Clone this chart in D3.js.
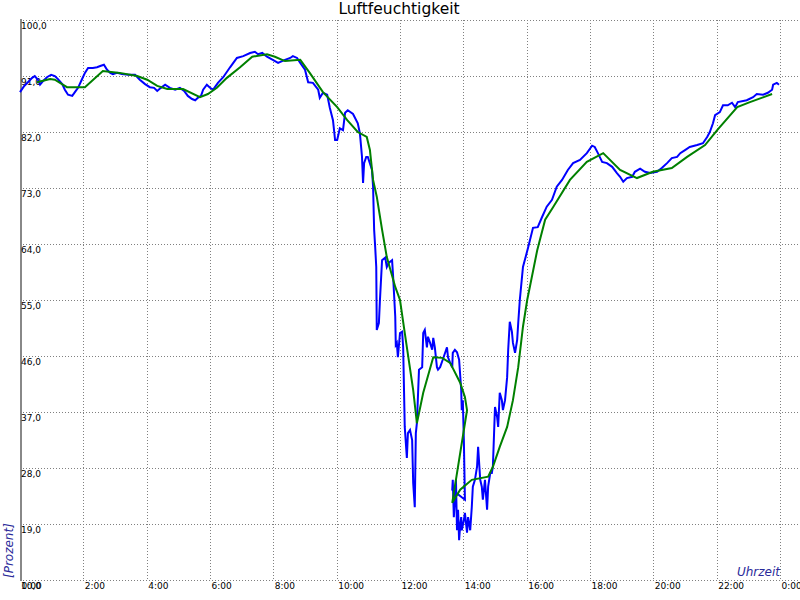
<!DOCTYPE html>
<html>
<head>
<meta charset="utf-8">
<script src="https://cdn.jsdelivr.net/npm/d3@7"></script>
<style>
  html, body { margin: 0; padding: 0; background: #fff; }
  svg { display: block; }
  text { font-family: "DejaVu Sans", sans-serif; }
</style>
</head>
<body>
<svg id="chart" width="800" height="600"></svg>
<script>
// ---- Data (time in minutes since 0:00, relative humidity in %) ----
const title = "Luftfeuchtigkeit";
const yLabel = "[Prozent]";
const xLabel = "Uhrzeit";

const yTickValues = [100, 91, 82, 73, 64, 55, 46, 37, 28, 19, 10];
const xTickValues = [0, 120, 240, 360, 480, 600, 720, 840, 960, 1080, 1200, 1320, 1440];
const xTickLabels = ["0:00","2:00","4:00","6:00","8:00","10:00","12:00","14:00","16:00","18:00","20:00","22:00","0:00"];

// measured humidity (blue)
const measuredTime = [0,8,15,23,28,34,38,44,51,59,66,72,80,85,91,99,104,110,117,123,129,138,146,152,159,165,171,176,184,193,205,218,227,237,246,254,260,267,275,284,294,303,311,318,326,332,337,343,347,354,360,366,375,385,398,411,423,436,445,451,459,468,479,489,502,512,517,525,531,540,546,555,565,568,574,582,587,593,597,601,606,612,616,621,631,640,644,648,650,652,656,659,667,669,671,673,675,676,680,682,686,692,695,699,705,707,711,712,714,716,720,724,726,729,733,735,739,743,745,748,750,752,756,762,764,767,771,773,777,781,783,786,790,792,796,801,809,811,815,819,820,824,828,832,836,837,839,841,843,819,820,822,824,826,828,830,832,834,836,837,841,843,847,849,853,856,858,862,866,868,872,875,877,881,885,887,891,894,896,900,904,906,909,913,915,919,923,925,928,932,934,938,942,944,947,953,963,972,981,989,998,1008,1017,1027,1038,1048,1061,1074,1084,1089,1095,1103,1112,1122,1131,1137,1143,1150,1160,1165,1175,1184,1194,1207,1216,1226,1235,1245,1251,1260,1269,1283,1294,1302,1307,1313,1317,1326,1332,1341,1349,1355,1360,1377,1389,1396,1408,1417,1425,1427,1434,1438];
const measuredValue = [88.4,89.4,90.0,90.7,91.0,90.4,89.6,90.2,90.8,91.2,91.0,90.5,89.7,88.8,88.0,87.8,88.4,89.1,90.4,91.5,92.3,92.3,92.4,92.6,92.8,92.0,91.5,91.3,91.5,91.3,91.2,91.2,90.4,89.7,89.2,89.1,88.6,89.1,89.6,89.1,88.8,89.1,88.6,87.8,87.3,87.1,87.5,87.8,88.8,89.6,89.1,88.8,89.9,90.8,92.4,93.9,94.2,94.7,94.9,94.5,94.7,94.1,93.6,93.1,93.6,93.9,94.2,93.9,93.1,92.0,90.0,89.9,88.8,87.5,88.3,88.0,85.9,83.9,80.7,80.7,82.6,82.3,85.1,85.5,84.9,83.4,81.8,78.0,73.8,77.0,78.0,78.0,75.9,73.2,66.3,63.5,60.3,50.2,51.3,55.0,61.4,61.8,60.3,61.0,61.4,58.7,52.3,47.8,48.1,45.8,49.7,49.9,47.4,34.6,29.6,33.6,34.1,32.5,25.6,21.7,33.6,35.2,43.8,44.2,49.7,50.2,47.4,49.1,48.1,47.0,48.9,47.4,44.2,43.8,44.2,45.4,47.4,45.8,44.9,44.2,46.5,47.0,46.6,45.4,40.5,37.3,38.9,32.5,22.9,24.5,26.1,20.1,22.9,26.1,18.0,21.3,16.4,18.8,20.1,18.0,19.6,20.8,17.6,20.1,18.0,21.7,25.0,26.1,28.2,31.4,26.1,25.0,22.9,26.1,21.3,25.0,27.2,27.2,28.2,37.8,36.2,34.6,40.1,38.9,37.3,38.9,42.6,47.0,51.5,49.9,48.1,46.5,48.6,51.3,55.0,60.3,63.5,66.6,66.7,68.3,70.0,71.1,73.2,74.3,75.9,77.0,77.5,78.6,79.8,79.6,78.6,77.2,77.0,76.4,75.4,74.8,74.0,74.6,74.8,75.6,76.1,75.6,75.4,75.6,76.2,77.0,77.8,78.0,78.6,79.1,79.6,79.9,80.2,81.2,82.0,83.4,84.7,85.2,86.3,86.3,86.7,86.0,86.8,87.1,87.6,88.1,88.0,88.3,88.8,89.6,89.9,89.6];

// smoothed humidity (green)
const smoothTime = [32,57,66,89,123,157,189,222,241,260,279,309,341,356,373,392,417,440,468,483,502,531,549,574,601,620,640,657,663,669,676,686,695,711,720,729,745,752,764,783,800,815,834,843,847,819,834,856,887,896,909,923,934,944,953,961,966,980,995,1010,1042,1074,1105,1137,1169,1199,1235,1264,1298,1321,1359,1383,1425];
const smoothValue = [90.0,90.5,90.4,89.2,89.2,91.8,91.5,91.0,90.4,89.4,88.9,88.9,87.6,88.1,89.1,90.7,92.4,94.1,94.5,94.1,93.4,93.6,91.5,88.4,86.0,83.9,82.0,81.2,79.1,74.3,71.6,66.3,61.9,57.1,55.0,49.7,40.5,35.2,40.1,45.8,45.7,44.9,41.7,39.4,37.3,22.4,24.5,26.1,26.6,28.2,31.4,34.6,38.9,44.2,50.7,55.0,57.1,63.0,67.9,69.9,74.3,77.2,78.6,75.9,74.6,75.6,76.2,78.0,79.9,82.3,86.0,86.8,88.1];

// ---- Drawing ----
const svg = d3.select("#chart");
const x = d3.scaleLinear().domain([0, 1440]).range([20, 780]);
const y = d3.scaleLinear().domain([10, 100]).range([580, 20]);
const gridColor = "#808080";

svg.append("rect").attr("width", 800).attr("height", 600).attr("fill", "#fff");

// horizontal grid
svg.append("g").selectAll("line").data(yTickValues).join("line")
  .attr("x1", 20).attr("x2", 800)
  .attr("y1", d => Math.round(y(d)) + 0.5).attr("y2", d => Math.round(y(d)) + 0.5)
  .attr("stroke", gridColor).attr("stroke-width", 1).attr("stroke-dasharray", "1,2")
  .attr("shape-rendering", "crispEdges");

// vertical grid
svg.append("g").selectAll("line").data(xTickValues.slice(1)).join("line")
  .attr("x1", d => Math.round(x(d)) + 0.5).attr("x2", d => Math.round(x(d)) + 0.5)
  .attr("y1", 20).attr("y2", 580)
  .attr("stroke", gridColor).attr("stroke-width", 1).attr("stroke-dasharray", "1,2")
  .attr("shape-rendering", "crispEdges");

// left axis bar
svg.append("line").attr("x1", 21).attr("x2", 21).attr("y1", 19).attr("y2", 581)
  .attr("stroke", "#888888").attr("stroke-width", 2).attr("shape-rendering", "crispEdges");

// y tick labels
svg.append("g").selectAll("text").data(yTickValues).join("text")
  .attr("x", 21).attr("y", d => y(d) + 9)
  .attr("font-size", 9).attr("fill", "#000")
  .text(d => d.toFixed(1).replace(".", ","));

// x tick labels
svg.append("g").selectAll("text").data(xTickValues).join("text")
  .attr("x", d => x(d) + 1.5).attr("y", 588.5)
  .attr("font-size", 9).attr("fill", "#000")
  .text((d, i) => xTickLabels[i]);

// lines
const measured = measuredTime.map((t, i) => [t, measuredValue[i]]);
const smooth = smoothTime.map((t, i) => [t, smoothValue[i]]);
const line = d3.line().x(d => x(d[0])).y(d => y(d[1]));

svg.append("path").datum(measured).attr("d", line)
  .attr("fill", "none").attr("stroke", "#0000ff").attr("stroke-width", 2)
  .attr("stroke-linejoin", "miter");
svg.append("path").datum(smooth).attr("d", line)
  .attr("fill", "none").attr("stroke", "#008000").attr("stroke-width", 2);

// title
svg.append("text").attr("x", 399).attr("y", 13.5).attr("text-anchor", "middle")
  .attr("font-size", 15.5).attr("fill", "#000").text(title);

// axis labels
svg.append("text").attr("x", 780).attr("y", 576).attr("text-anchor", "end")
  .attr("font-size", 12).attr("font-style", "italic").attr("fill", "#2a2a9a").text(xLabel);
svg.append("text").attr("transform", "translate(12.5,578) rotate(-90)")
  .attr("font-size", 12).attr("font-style", "italic").attr("fill", "#2a2a9a").text(yLabel);
</script>
</body>
</html>
